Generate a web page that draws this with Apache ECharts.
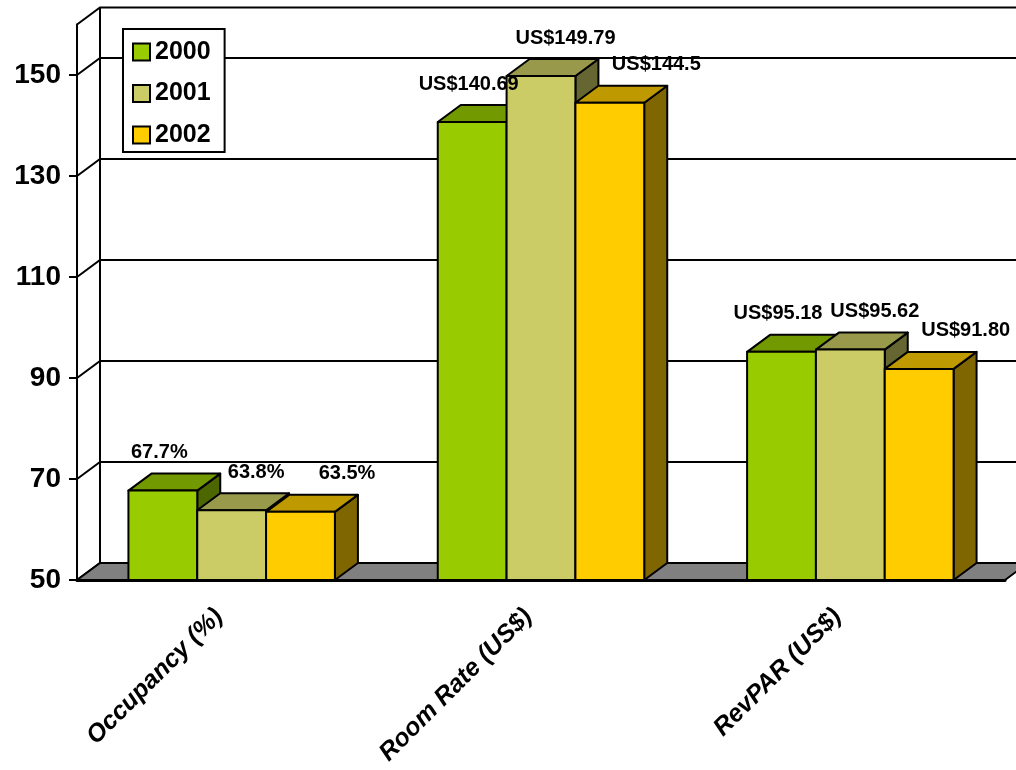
<!DOCTYPE html>
<html>
<head>
<meta charset="utf-8">
<script src="https://cdn.jsdelivr.net/npm/echarts@6/dist/echarts.min.js"></script>
<style>
html,body{margin:0;padding:0;background:#fff;}
#chart{width:1016px;height:770px;}
</style>
</head>
<body>
<div id="chart"></div>
<script>
// ---- data ----
const categories = ['Occupancy (%)', 'Room Rate (US$)', 'RevPAR (US$)'];
const years = ['2000', '2001', '2002'];
const values2000 = [67.7, 140.69, 95.18];
const values2001 = [63.8, 149.79, 95.62];
const values2002 = [63.5, 144.5, 91.80];
const labels2000 = ['67.7%', 'US$140.69', 'US$95.18'];
const labels2001 = ['63.8%', 'US$149.79', 'US$95.62'];
const labels2002 = ['63.5%', 'US$144.5', 'US$91.80'];
const yTicks = [50, 70, 90, 110, 130, 150];
const yMin = 50, yMax = 160, yInterval = 20;

// ---- style ----
const FONT = 'Arial, "Liberation Sans", sans-serif';
const DX = 23, DY = -17;           // 3D depth offset
const BAR_FRAC = 0.2225;           // bar width as fraction of band
const faceColors = [
  { front: '#99CC00', top: '#739900', side: '#4C6600' },
  { front: '#CCCC66', top: '#99994C', side: '#666633' },
  { front: '#FFCC00', top: '#BF9900', side: '#806600' }
];
const labelShift = [-15, 13, 35];

const seriesValues = [values2000, values2001, values2002];
const seriesLabels = [labels2000, labels2001, labels2002];

function poly(points, fill, z2) {
  return { type: 'polygon', shape: { points: points }, z2: z2 || 0,
    style: { fill: fill, stroke: '#000', lineWidth: 2, lineJoin: 'round' } };
}

function makeBarRender(si) {
  return function (params, api) {
    const c = api.value(0), v = api.value(1);
    const base = api.coord([c, yMin]);
    const top = api.coord([c, v]);
    const band = api.size([1, 0])[0];
    const w = band * BAR_FRAC;
    const x0 = base[0] - 1.5 * w + si * w, x1 = x0 + w;
    const yb = base[1], yt = top[1];
    const col = faceColors[si];
    const lab = seriesLabels[si][params.dataIndex];
    return {
      type: 'group',
      children: [
        poly([[x1, yt], [x1 + DX, yt + DY], [x1 + DX, yb + DY], [x1, yb]], col.side),
        poly([[x0, yt], [x1, yt], [x1 + DX, yt + DY], [x0 + DX, yt + DY]], col.top),
        poly([[x0, yt], [x1, yt], [x1, yb], [x0, yb]], col.front),
        { type: 'text', z2: 100,
          style: { text: lab, x: (x0 + x1) / 2 + DX / 2 + labelShift[si], y: yt + DY - 21,
            align: 'center', verticalAlign: 'middle',
            font: 'bold 20px ' + FONT, fill: '#000' } }
      ]
    };
  };
}

function wallRender(params, api) {
  const cs = params.coordSys;
  const gx = cs.x, gw = cs.width;
  const y0 = api.coord([0, yMin])[1];
  const yTop = api.coord([0, yMax])[1];
  const children = [];
  const ls = { stroke: '#000', lineWidth: 2 };
  yTicks.concat([yMax]).forEach(function (t) {
    const y = api.coord([0, t])[1];
    children.push({ type: 'polyline', shape: { points: [[gx, y], [gx + DX, y + DY], [gx + gw + DX + 40, y + DY]] }, style: { fill: null, stroke: '#000', lineWidth: 2 } });
  });
  children.push({ type: 'line', shape: { x1: gx + DX, y1: yTop + DY, x2: gx + DX, y2: y0 + DY }, style: ls });
  children.push({ type: 'polygon', shape: { points: [[gx, y0], [gx + gw, y0], [gx + gw + DX, y0 + DY], [gx + DX, y0 + DY]] },
    style: { fill: '#808080', stroke: '#000', lineWidth: 2 } });
  return { type: 'group', children: children };
}

const series = [{
  type: 'custom', name: 'wall', z: 1, silent: true,
  renderItem: wallRender, data: [[0, yMin]], encode: { x: 0, y: 1 }
}];
years.forEach(function (yr, si) {
  series.push({
    type: 'custom', name: yr, z: 2,
    itemStyle: { color: faceColors[si].front },
    renderItem: makeBarRender(si),
    encode: { x: 0, y: 1 },
    data: seriesValues[si].map(function (v, i) { return [i, v]; })
  });
});

const chart = echarts.init(document.getElementById('chart'), null, { renderer: 'canvas' });
chart.setOption({
  animation: false,
  backgroundColor: '#fff',
  color: faceColors.map(function (c) { return c.front; }),
  grid: { left: 77, right: 11, top: 24.5, bottom: 190, containLabel: false },
  legend: {
    data: years, orient: 'vertical', left: 123, top: 29,
    padding: [10, 14, 4, 9], itemGap: 15.5,
    itemWidth: 17, itemHeight: 17, icon: 'rect',
    itemStyle: { borderColor: '#000', borderWidth: 2 },
    backgroundColor: '#fff', borderColor: '#000', borderWidth: 2,
    textStyle: { fontFamily: FONT, fontWeight: 'bold', fontSize: 25, color: '#000', lineHeight: 26 },
    z: 10
  },
  xAxis: {
    type: 'category', data: categories, z: 3,
    axisLine: { show: true, lineStyle: { color: '#000', width: 3 } },
    axisTick: { show: false },
    splitLine: { show: false },
    axisLabel: { rotate: 45, margin: 20, interval: 0, color: '#000', padding: [0, 18, 0, 0],
      fontFamily: FONT, fontWeight: 'bold', fontStyle: 'italic', fontSize: 25 }
  },
  yAxis: {
    type: 'value', min: yMin, max: yMax, interval: yInterval, z: 3,
    axisLine: { show: true, lineStyle: { color: '#000', width: 2 } },
    axisTick: { show: true, inside: false, length: 8, customValues: yTicks, lineStyle: { color: '#000', width: 2 } },
    splitLine: { show: false },
    axisLabel: { customValues: yTicks, margin: 16, color: '#000',
      fontFamily: FONT, fontWeight: 'bold', fontSize: 28 }
  },
  series: series
});
</script>
</body>
</html>
